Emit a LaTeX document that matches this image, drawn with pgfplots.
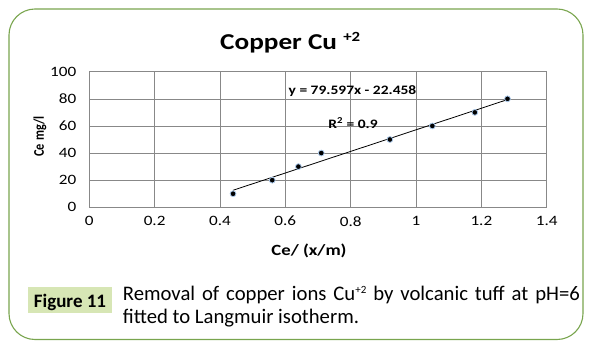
\documentclass[border=0pt]{standalone}
\usepackage{pgfplots}
\pgfplotsset{compat=1.18}
\usepackage{fontspec}
\setmainfont{Carlito}
\newfontfamily\chartfont[FakeStretch=1.2]{Carlito}
\definecolor{boxgreen}{HTML}{79A54E}
\definecolor{figgreen}{HTML}{D7E6B5}
\definecolor{gridgray}{HTML}{888888}
\definecolor{halo}{HTML}{A9C8EA}
\begin{document}
\begin{tikzpicture}[x=1pt,y=1pt]
\useasboundingbox (0,0) rectangle (593,342);
\draw[boxgreen, line width=1.1pt, rounded corners=26pt] (9,2.5) rectangle (583,333);
\begin{axis}[
  at={(89.3pt,134.7pt)}, anchor=south west,
  scale only axis, width=457.4pt, height=135.6pt,
  xmin=0, xmax=1.4, ymin=0, ymax=100,
  xtick={0,0.2,...,1.4}, ytick={0,20,...,100},
  xticklabels={0,0.2,0.4,0.6,0.8,1,1.2,1.4},
  grid=major, major grid style={gridgray, line width=0.6pt},
  axis line style={gridgray, line width=0.6pt},
  tick style={draw=none},
  tick label style={font=\chartfont\fontsize{14.3}{16}\selectfont},
  /pgf/number format/assume math mode=true,
  xticklabel style={yshift=-5.5pt},
  yticklabel style={xshift=-9.5pt},
  clip=false,
]
\addplot[only marks, mark=*, mark size=2.9pt, mark options={fill=black, draw=halo, line width=0.8pt}]
 coordinates {(0.44,10) (0.56,20) (0.64,30) (0.71,40) (0.92,50) (1.05,60) (1.18,70) (1.28,80)};
\addplot[black, line width=0.8pt] coordinates {(0.44,12.565) (1.28,79.426)};
\end{axis}
\node[font=\chartfont\fontsize{22.7}{26}\selectfont\bfseries, anchor=base west, inner sep=0pt] at (220,292.7) {Copper Cu \raisebox{7.5pt}{\fontsize{14}{16}\selectfont +2}};
\node[font=\fontsize{12.3}{14}\selectfont\bfseries, rotate=90] at (40,205.5) {\scalebox{1}[1.2]{Ce\hspace{3.8pt}mg/l}};
\node[font=\chartfont\fontsize{15.6}{18}\selectfont\bfseries, anchor=base] at (309,86) {Ce/ (x/m)};
\node[font=\chartfont\fontsize{12.9}{15}\selectfont\bfseries, anchor=base, inner sep=0pt] at (352.5,247.7) {y = 79.597x - 22.458};
\node[font=\chartfont\fontsize{12.9}{15}\selectfont\bfseries, anchor=base, inner sep=0pt] at (353,213.7) {R\textsuperscript{2} = 0.9};
\fill[figgreen] (28,29) rectangle (112,55);
\node[font=\fontsize{19}{22}\selectfont\bfseries, anchor=base, inner sep=0pt] at (70,34.7) {Figure 11};
\node[font=\fontsize{20.7}{24}\selectfont, anchor=base west, inner sep=0pt] at (122.7,41.3) {\makebox[457pt][s]{Removal of copper ions Cu\raisebox{7pt}{\fontsize{11}{12}\selectfont +2} by volcanic tuff at pH=6}};
\node[font=\fontsize{20.7}{24}\selectfont, anchor=base west, inner sep=0pt] at (122.7,18.7) {fitted to Langmuir isotherm.};
\end{tikzpicture}
\end{document}
